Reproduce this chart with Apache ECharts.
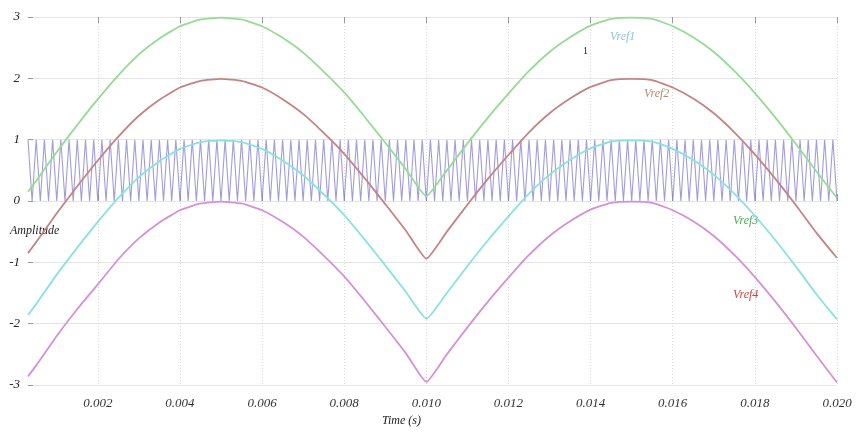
<!DOCTYPE html>
<html>
<head>
<meta charset="utf-8">
<script src="https://cdn.jsdelivr.net/npm/echarts@6/dist/echarts.min.js"></script>
<style>
  html, body { margin: 0; padding: 0; background: #fff; }
  #chart { width: 856px; height: 432px; }
</style>
</head>
<body>
<div id="chart"></div>
<script>
// sample times (s) for the reference curves
const times = [0.0003, 0.0005, 0.001, 0.0015, 0.002, 0.0025, 0.003, 0.0035, 0.004, 0.0045,
  0.005, 0.0055, 0.006, 0.0065, 0.007, 0.0075, 0.008, 0.0085, 0.009, 0.0095,
  0.010, 0.0105, 0.011, 0.0115, 0.012, 0.0125, 0.013, 0.0135, 0.014, 0.0145,
  0.015, 0.0155, 0.016, 0.0165, 0.017, 0.0175, 0.018, 0.0185, 0.019, 0.0195, 0.020];

const vref1 = [0.15, 0.33, 0.80, 1.24, 1.66, 2.05, 2.39, 2.65, 2.85, 2.96,
  2.99, 2.96, 2.85, 2.66, 2.42, 2.11, 1.77, 1.37, 0.95, 0.52,
  0.08, 0.50, 0.94, 1.36, 1.75, 2.12, 2.43, 2.67, 2.86, 2.97,
  2.99, 2.97, 2.85, 2.67, 2.43, 2.12, 1.76, 1.36, 0.93, 0.48, 0.05];

const vref2 = [-0.85, -0.67, -0.20, 0.24, 0.66, 1.05, 1.39, 1.65, 1.85, 1.96,
  1.99, 1.96, 1.85, 1.66, 1.42, 1.11, 0.77, 0.37, -0.05, -0.48,
  -0.94, -0.50, -0.06, 0.36, 0.75, 1.12, 1.43, 1.67, 1.86, 1.97,
  1.99, 1.97, 1.85, 1.67, 1.43, 1.12, 0.76, 0.36, -0.07, -0.52, -0.93];

const vref3 = [-1.86, -1.68, -1.20, -0.76, -0.34, 0.05, 0.39, 0.65, 0.85, 0.96,
  0.99, 0.96, 0.85, 0.66, 0.42, 0.11, -0.23, -0.63, -1.05, -1.48,
  -1.92, -1.50, -1.06, -0.64, -0.25, 0.12, 0.43, 0.67, 0.86, 0.97,
  0.99, 0.97, 0.85, 0.67, 0.43, 0.12, -0.24, -0.64, -1.07, -1.52, -1.93];

const vref4 = [-2.86, -2.68, -2.20, -1.76, -1.36, -0.95, -0.61, -0.35, -0.15, -0.04,
  -0.01, -0.04, -0.15, -0.34, -0.58, -0.89, -1.23, -1.63, -2.05, -2.48,
  -2.95, -2.50, -2.06, -1.64, -1.25, -0.88, -0.57, -0.33, -0.14, -0.03,
  -0.01, -0.03, -0.15, -0.33, -0.57, -0.88, -1.24, -1.64, -2.07, -2.52, -2.96];

// triangular carrier vertices (peaks at 1, valleys at 0)
const carrierT = [.0003, .0004, .0005, .0006, .0007, .0008, .0009,
  .0010, .0011, .0012, .0013, .0014, .0015, .0016, .0017, .0018, .0019,
  .0020, .0021, .0022, .0023, .0024, .0025, .0026, .0027, .0028, .0029,
  .0030, .0031, .0032, .0033, .0034, .0035, .0036, .0037, .0038, .0039,
  .0040, .0041, .0042, .0043, .0044, .0045, .0046, .0047, .0048, .0049,
  .0050, .0051, .0052, .0053, .0054, .0055, .0056, .0057, .0058, .0059,
  .0060, .0061, .0062, .0063, .0064, .0065, .0066, .0067, .0068, .0069,
  .0070, .0071, .0072, .0073, .0074, .0075, .0076, .0077, .0078, .0079,
  .0080, .0081, .0082, .0083, .0084, .0085, .0086, .0087, .0088, .0089,
  .0090, .0091, .0092, .0093, .0094, .0095, .0096, .0097, .0098, .0099,
  .0100, .0101, .0102, .0103, .0104, .0105, .0106, .0107, .0108, .0109,
  .0110, .0111, .0112, .0113, .0114, .0115, .0116, .0117, .0118, .0119,
  .0120, .0121, .0122, .0123, .0124, .0125, .0126, .0127, .0128, .0129,
  .0130, .0131, .0132, .0133, .0134, .0135, .0136, .0137, .0138, .0139,
  .0140, .0141, .0142, .0143, .0144, .0145, .0146, .0147, .0148, .0149,
  .0150, .0151, .0152, .0153, .0154, .0155, .0156, .0157, .0158, .0159,
  .0160, .0161, .0162, .0163, .0164, .0165, .0166, .0167, .0168, .0169,
  .0170, .0171, .0172, .0173, .0174, .0175, .0176, .0177, .0178, .0179,
  .0180, .0181, .0182, .0183, .0184, .0185, .0186, .0187, .0188, .0189,
  .0190, .0191, .0192, .0193, .0194, .0195, .0196, .0197, .0198, .0199,
  .0200];
const carrierV = [1, 0, 1, 0, 1, 0, 1,
  0, 1, 0, 1, 0, 1, 0, 1, 0, 1,
  0, 1, 0, 1, 0, 1, 0, 1, 0, 1,
  0, 1, 0, 1, 0, 1, 0, 1, 0, 1,
  0, 1, 0, 1, 0, 1, 0, 1, 0, 1,
  0, 1, 0, 1, 0, 1, 0, 1, 0, 1,
  0, 1, 0, 1, 0, 1, 0, 1, 0, 1,
  0, 1, 0, 1, 0, 1, 0, 1, 0, 1,
  0, 1, 0, 1, 0, 1, 0, 1, 0, 1,
  0, 1, 0, 1, 0, 1, 0, 1, 0, 1,
  0, 1, 0, 1, 0, 1, 0, 1, 0, 1,
  0, 1, 0, 1, 0, 1, 0, 1, 0, 1,
  0, 1, 0, 1, 0, 1, 0, 1, 0, 1,
  0, 1, 0, 1, 0, 1, 0, 1, 0, 1,
  0, 1, 0, 1, 0, 1, 0, 1, 0, 1,
  0, 1, 0, 1, 0, 1, 0, 1, 0, 1,
  0, 1, 0, 1, 0, 1, 0, 1, 0, 1,
  0, 1, 0, 1, 0, 1, 0, 1, 0, 1,
  0, 1, 0, 1, 0, 1, 0, 1, 0, 1,
  0, 1, 0, 1, 0, 1, 0, 1, 0, 1,
  0];

// tick labels
const xTicks = [0.002, 0.004, 0.006, 0.008, 0.010, 0.012, 0.014, 0.016, 0.018, 0.020];
const yTicks = [-3, -2, -1, 0, 1, 2, 3];

const serif = '"Liberation Serif", "DejaVu Serif", serif';
const pair = (xs, ys) => xs.map((x, i) => [x, ys[i]]);

const chart = echarts.init(document.getElementById('chart'));

const curve = (name, data, color) => ({
  name, type: 'line', data: pair(times, data), showSymbol: false, smooth: 0.15,
  lineStyle: { color, width: 1.8 }, z: 3
});

const option = {
  animation: false,
  backgroundColor: '#fff',
  grid: { left: 28, right: 19, top: 17, bottom: 47 },
  xAxis: [{
    type: 'value', min: 0.0003, max: 0.02,
    axisLine: { show: false },
    axisTick: { show: true, inside: true, length: 7, customValues: xTicks, lineStyle: { color: '#999' } },
    axisLabel: {
      customValues: xTicks, margin: 12, color: '#333', fontSize: 13,
      fontStyle: 'italic', fontFamily: serif, formatter: v => v.toFixed(3)
    },
    splitLine: { show: true, lineStyle: { color: '#dadada', type: [1, 2] } }
  }, {
    type: 'value', min: 0.0003, max: 0.02, position: 'top',
    axisLine: { show: false },
    axisTick: { show: true, inside: true, length: 6, customValues: xTicks, lineStyle: { color: '#999' } },
    axisLabel: { show: false },
    splitLine: { show: false }
  }],
  yAxis: {
    type: 'value', min: -3, max: 3, interval: 1,
    axisLine: { show: false },
    axisTick: { show: true, inside: true, length: 5, lineStyle: { color: '#999' } },
    axisLabel: {
      customValues: yTicks, margin: 8, color: '#222', fontSize: 13,
      fontStyle: 'italic', fontFamily: serif
    },
    splitLine: { show: true, lineStyle: { color: '#e4e4e4', width: 1 } }
  },
  series: [
    {
      name: 'Carrier', type: 'line', data: pair(carrierT, carrierV), showSymbol: false,
      lineStyle: { color: '#8a83cf', width: 1.1, opacity: 0.8 }, z: 2
    },
    curve('Vref1', vref1, '#95dc93'),
    curve('Vref2', vref2, '#c58384'),
    curve('Vref3', vref3, '#88e2e0'),
    curve('Vref4', vref4, '#d590d8')
  ],
  graphic: [
    { type: 'text', left: 10, top: 225, style: { text: 'Amplitude', font: 'italic 12px ' + serif, fill: '#222' } },
    { type: 'text', left: 382, top: 415, style: { text: 'Time (s)', font: 'italic 12px ' + serif, fill: '#222' } },
    { type: 'text', left: 610, top: 31, style: { text: 'Vref1', font: 'italic 12px ' + serif, fill: '#8fc3df' } },
    { type: 'text', left: 644, top: 88, style: { text: 'Vref2', font: 'italic 12px ' + serif, fill: '#b08a70' } },
    { type: 'text', left: 733, top: 215, style: { text: 'Vref3', font: 'italic 12px ' + serif, fill: '#4dab5a' } },
    { type: 'text', left: 733, top: 289, style: { text: 'Vref4', font: 'italic 12px ' + serif, fill: '#cc4444' } },
    { type: 'text', left: 583, top: 46, style: { text: '1', font: '10px ' + serif, fill: '#222' } }
  ]
};

chart.setOption(option);
</script>
</body>
</html>
